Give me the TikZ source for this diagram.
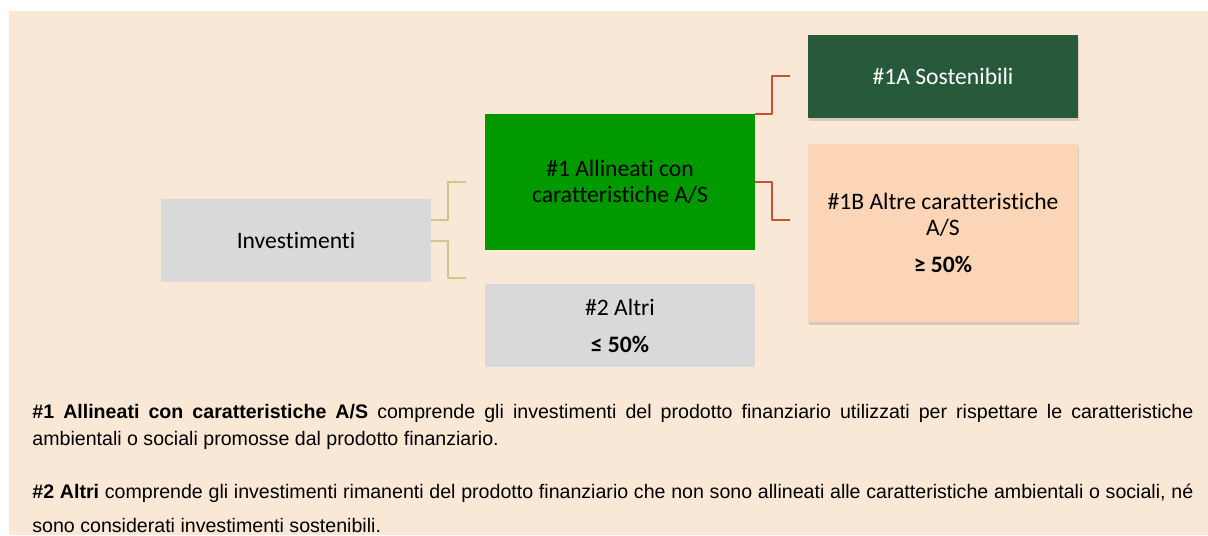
\documentclass[tikz,border=0pt]{standalone}
\usepackage{fontspec}
\setmainfont{Liberation Sans}
\newfontfamily\boxfont[Ligatures=CommonOff]{Carlito}
\usetikzlibrary{shadows}
\definecolor{sfondo}{HTML}{FAE8D7}
\definecolor{grigio}{HTML}{D9D9D9}
\definecolor{verde}{HTML}{009900}
\definecolor{verdescuro}{HTML}{265A3B}
\definecolor{pesca}{HTML}{FBD5B5}
\definecolor{oliva}{HTML}{D0C58A}
\definecolor{rosso}{HTML}{C6532F}
\begin{document}
\begin{tikzpicture}[x=0.5pt,y=-0.5pt,line join=round,
  box/.style={anchor=north west,inner sep=0pt,outer sep=0pt,minimum width=135pt,align=center,font=\boxfont\fontsize{11.8}{13}\selectfont},
  ombra/.style={drop shadow={opacity=0.3,shadow xshift=0.6pt,shadow yshift=-1.6pt}},
  lineaoliva/.style={draw=oliva,line width=1pt},
  linearossa/.style={draw=rosso,line width=1pt},
  nota/.style={anchor=base west,inner sep=0pt,text width=580.5pt,align=justify}]
\useasboundingbox (0,0) rectangle (1208,535);
\fill[sfondo] (9,11) rectangle (1208,535);
% riquadri
\node[box,fill=grigio,minimum height=41.5pt] (inv) at (161,199) {Investimenti};
\node[box,fill=verde,minimum height=68pt] (allin) at (485,114) {\#1 Allineati con\\caratteristiche A/S};
\node[box,fill=grigio,minimum height=41.5pt] (altri) at (485,284) {\#2 Altri\\[5.5pt]\textbf{≤ 50\%}};
\node[box,ombra,fill=verdescuro,text=white,minimum height=41.5pt] (sost) at (808,35) {\#1A Sostenibili};
\node[box,ombra,fill=pesca,minimum height=89pt] (altre) at (808,144) {\#1B Altre caratteristiche\\A/S\\[5.5pt]\textbf{≥ 50\%}};
% collegamenti
\draw[lineaoliva] ([yshift=10.25pt]inv.east) -- ++(17,0) |- ([xshift=-9.5pt]allin.west);
\draw[lineaoliva] (inv.east) -- ++(17,0) |- ([xshift=-9.5pt,yshift=23.75pt]altri.west);
\draw[linearossa] (allin.north east) -- ++(17,0) |- ([xshift=-9pt]sost.west);
\draw[linearossa] (allin.east) -- ++(17,0) |- ([xshift=-9pt,yshift=6.5pt]altre.west);
% note
\node[nota,font=\fontsize{9.8}{13.5}\selectfont] (nota1) at (32,418) {\textbf{\#1 Allineati con caratteristiche A/S} comprende gli investimenti del prodotto finanziario utilizzati per rispettare le caratteristiche\linebreak ambientali o sociali promosse dal prodotto finanziario.};
\node[nota,font=\fontsize{9.8}{17}\selectfont] (nota2) at (32,498) {\textbf{\#2 Altri} comprende gli investimenti rimanenti del prodotto finanziario che non sono allineati alle caratteristiche ambientali o sociali, né\linebreak sono considerati investimenti sostenibili.};
\end{tikzpicture}
\end{document}
